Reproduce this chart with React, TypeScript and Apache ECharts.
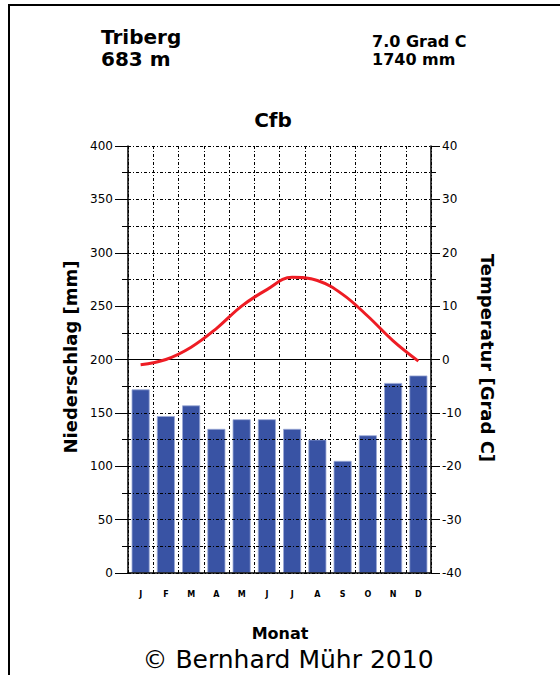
import React, { useEffect, useRef } from "react";
import * as echarts from "echarts";

const months = ["J", "F", "M", "A", "M", "J", "J", "A", "S", "O", "N", "D"];
const precipitation = [172, 147, 157, 135, 144, 144, 135, 125, 105, 129, 178, 185];
const temperature = [-1.0, 0.0, 2.3, 5.8, 10.0, 13.1, 15.4, 14.8, 12.2, 8.1, 3.5, -0.3];
const stationName = "Triberg";
const stationHeight = "683 m";
const annualTemp = "7.0 Grad C";
const annualPrecip = "1740 mm";
const climateClass = "Cfb";
const copyright = "© Bernhard Mühr 2010";

const FONT = "DejaVu Sans";
const DASH = [3, 2, 1, 2];

export default function App() {
  const ref = useRef<HTMLDivElement>(null);
  useEffect(() => {
    if (!ref.current) return;
    const chart = echarts.init(ref.current, null, { renderer: "svg" });
    const txt = (text: string, x: number, y: number, size: number, weight: string, align = "left", rotation = 0, family = FONT) => ({
      type: "text",
      x,
      y,
      rotation,
      z: 10,
      style: {
        text,
        fontSize: size,
        fontWeight: weight,
        fontFamily: family,
        fill: "#000",
        align,
        verticalAlign: "middle",
      },
    });
    chart.setOption({
      animation: false,
      backgroundColor: "#fff",
      grid: { left: 128, top: 146, width: 303, height: 427, containLabel: false },
      xAxis: {
        type: "category",
        data: months,
        boundaryGap: true,
        axisLine: { show: true, lineStyle: { color: "#000", width: 1.5 } },
        axisTick: { show: false },
        axisLabel: { color: "#000", fontSize: 8, fontWeight: "bold", fontFamily: FONT, margin: 17 },
        splitLine: { show: true, interval: 0, lineStyle: { color: "#000", type: DASH, width: 1 } },
        z: 3,
      },
      yAxis: [
        {
          type: "value",
          min: 0,
          max: 400,
          interval: 50,
          position: "left",
          z: 3,
          axisLine: { show: true, lineStyle: { color: "#000", width: 1.5 } },
          axisTick: { show: true, length: 13, lineStyle: { color: "#000", width: 1 } },
          minorTick: { show: true, splitNumber: 2, length: 6, lineStyle: { color: "#000", width: 1 } },
          axisLabel: { color: "#000", fontSize: 12, fontFamily: FONT, margin: 15 },
          splitLine: { show: true, lineStyle: { color: "#000", type: DASH, width: 1 } },
          minorSplitLine: { show: true, lineStyle: { color: "#000", type: DASH, width: 1 } },
        },
        {
          type: "value",
          min: -40,
          max: 40,
          interval: 10,
          position: "right",
          z: 3,
          axisLine: { show: true, lineStyle: { color: "#000", width: 1.5 } },
          axisTick: { show: true, length: 9, lineStyle: { color: "#000", width: 1 } },
          minorTick: { show: true, splitNumber: 2, length: 5, lineStyle: { color: "#000", width: 1 } },
          axisLabel: { color: "#000", fontSize: 12, fontFamily: FONT, margin: 11 },
          splitLine: { show: false },
        },
      ],
      series: [
        {
          type: "bar",
          yAxisIndex: 0,
          data: precipitation,
          barWidth: 18,
          z: 1,
          itemStyle: { color: "#3953a4", borderColor: "#9aa8d6", borderWidth: 0.8 },
        },
        {
          type: "line",
          yAxisIndex: 1,
          data: temperature,
          smooth: 0.4,
          showSymbol: false,
          symbol: "none",
          z: 5,
          lineStyle: { color: "#ee1c24", width: 3 },
          markLine: {
            silent: true,
            symbol: "none",
            label: { show: false },
            lineStyle: { color: "#000", type: "solid", width: 1.2 },
            data: [{ yAxis: 0 }],
            z: 4,
          },
        },
      ],
      graphic: [
        { type: "line", shape: { x1: 9, y1: 5, x2: 560, y2: 5 }, style: { stroke: "#000", lineWidth: 2 } },
        { type: "line", shape: { x1: 9, y1: 4, x2: 9, y2: 675 }, style: { stroke: "#000", lineWidth: 2 } },
        txt(stationName, 101, 37, 20, "bold"),
        txt(stationHeight, 101, 59, 20, "bold"),
        txt(annualTemp, 372, 41, 16, "bold"),
        txt(annualPrecip, 372, 59, 16, "bold"),
        txt(climateClass, 273, 120, 20, "bold", "center"),
        txt("Niederschlag [mm]", 70, 357, 18, "bold", "center", Math.PI / 2),
        txt("Temperatur [Grad C]", 487, 358, 18, "bold", "center", -Math.PI / 2),
        txt("Monat", 280, 633, 16, "bold", "center"),
        txt(copyright, 288, 659, 25, "normal", "center"),
      ],
    });
    return () => chart.dispose();
  }, []);
  return <div ref={ref} style={{ position: "fixed", left: 0, top: 0, width: 560, height: 675 }} />;
}
